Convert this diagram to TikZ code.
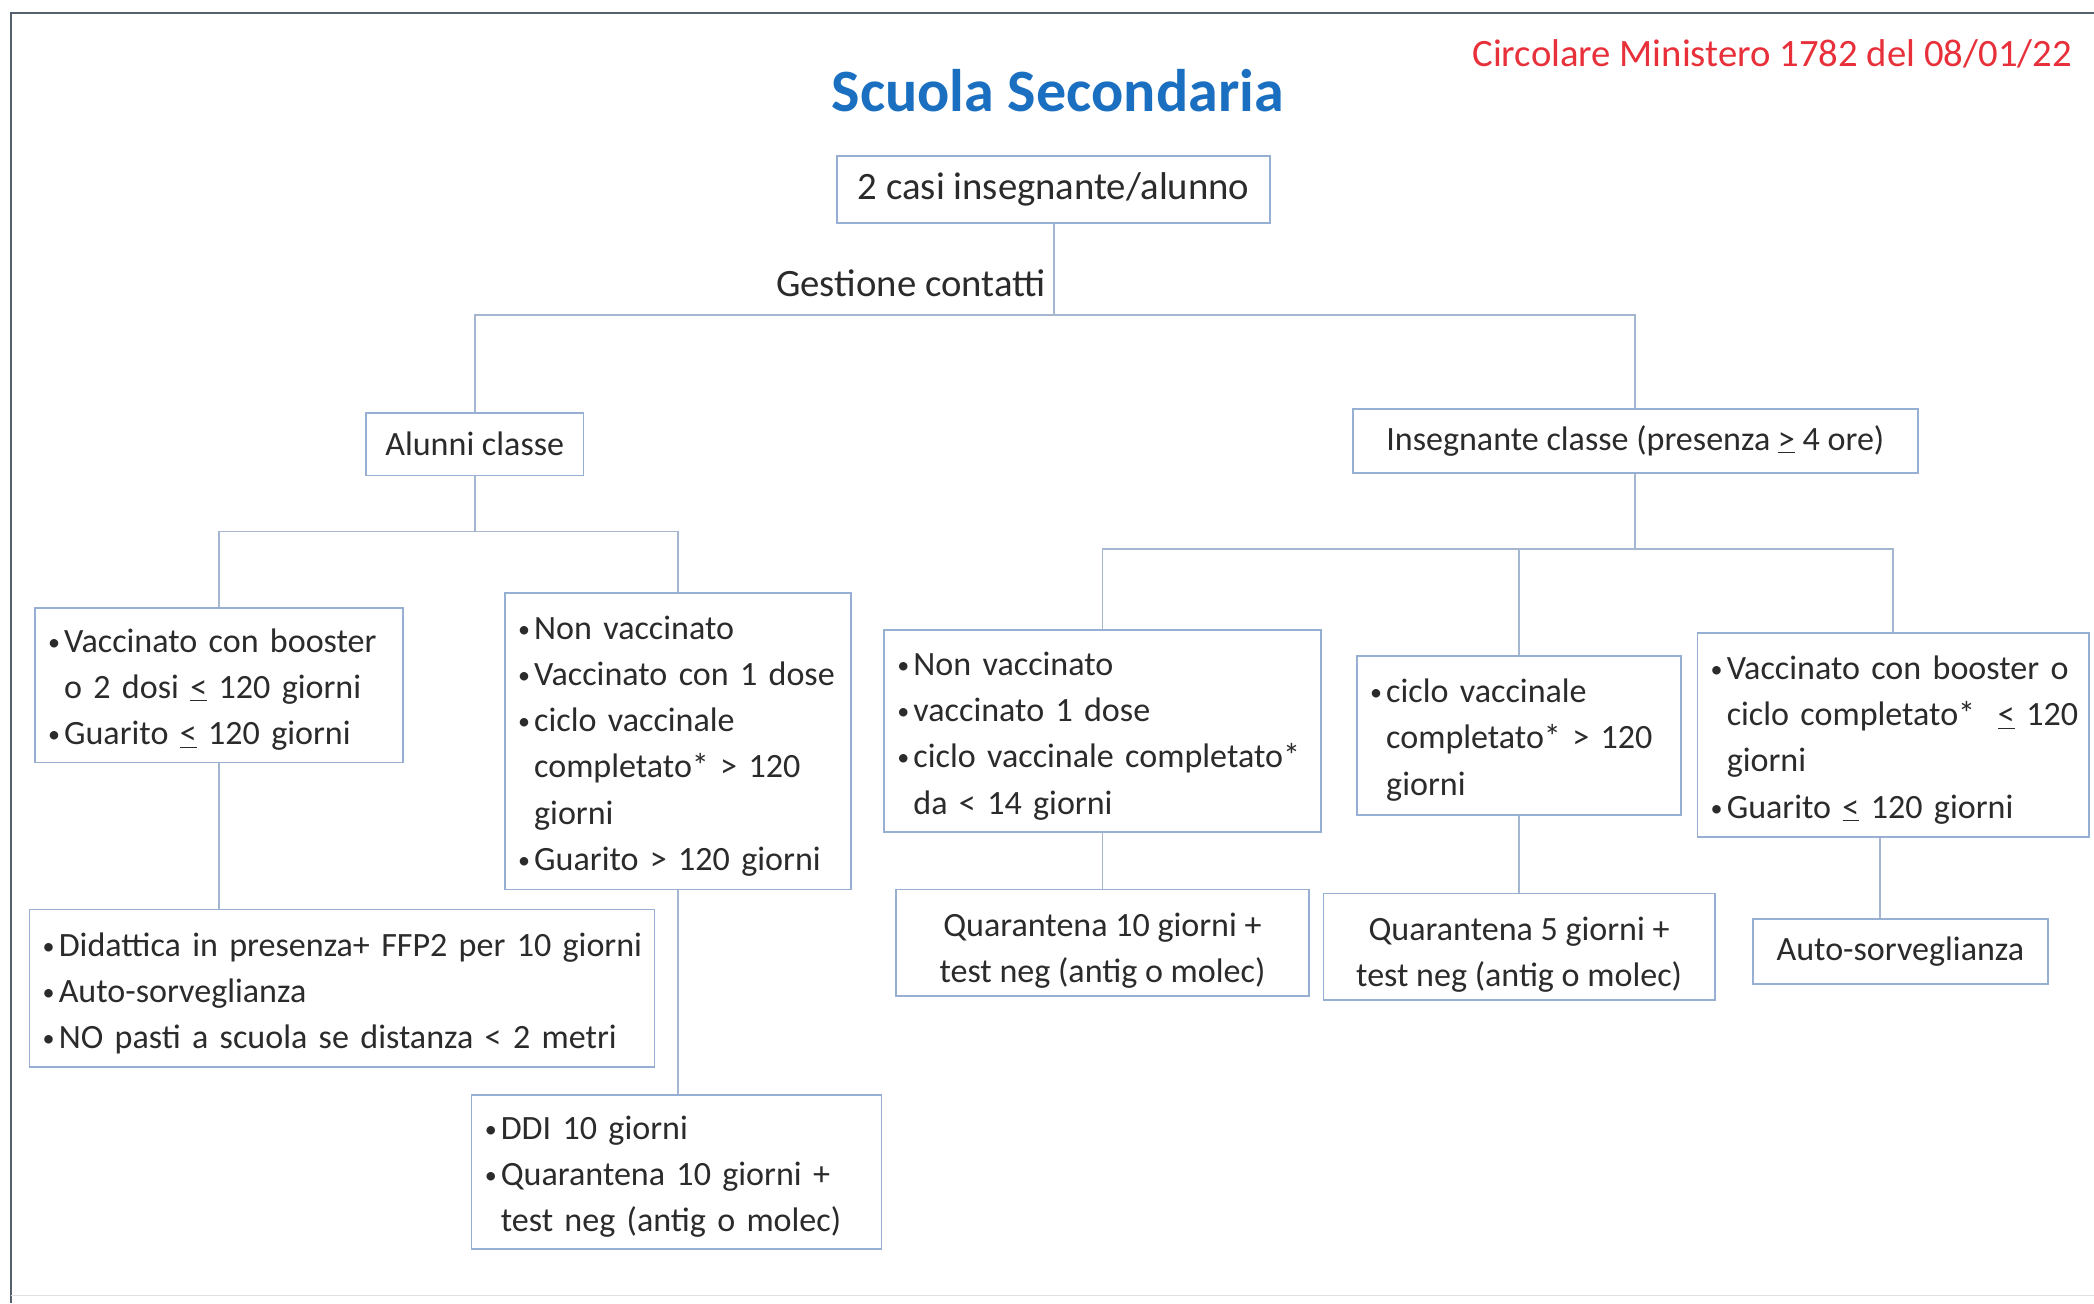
\documentclass[tikz,border=0pt]{standalone}
\usepackage{fontspec}
\setmainfont{Carlito}
\definecolor{bordc}{HTML}{96AFD2}
\definecolor{linec}{HTML}{A5B7D0}
\definecolor{txtc}{HTML}{2B2B2B}
\definecolor{titc}{HTML}{1A6FC0}
\definecolor{redc}{HTML}{E8303A}
\definecolor{framec}{HTML}{55606C}
\newcommand\bl{\makebox[12pt][l]{\raisebox{1.5pt}{\fontsize{18}{18}\selectfont •}}}
\newcommand\li[1]{\mbox{\bl #1}}
\newcommand\lc[1]{\mbox{\hspace*{12pt}#1}}
\newcommand\leu{\underline{<}}
\newcommand\geu{\underline{>}}
\newcommand\topstrut{\rule{0pt}{30pt}}
\tikzset{
  box/.style={draw=bordc, line width=1.3pt, fill=white, text=txtc, inner ysep=0pt,
    font=\fontsize{25.5}{34.5}\selectfont},
  cbox/.style={box, align=center, inner xsep=0pt},
  lbox/.style={box, align=left, inner xsep=10pt, execute at begin node={\rule{0pt}{25pt}}},
  conn/.style={draw=linec, line width=1.3pt},
}
\begin{document}
\begin{tikzpicture}[x=1pt,y=-1pt]
\useasboundingbox (0,0) rectangle (1568,976);
\fill[white] (0,0) rectangle (1568,976);
% frame
\draw[framec, line width=1.5pt] (8,976) -- (8,10) -- (1568,10);
\draw[black!12, line width=1pt] (8,970) -- (1568,970);
% titles
\node[font=\bfseries\fontsize{45}{54}\selectfont, text=titc] (title) at (792,68) {Scuola Secondaria};
\node[font=\fontsize{29}{34}\selectfont, text=redc] (circ) at (1327,40) {Circolare Ministero 1782 del 08/01/22};
% root
\node[cbox, minimum width=324pt, minimum height=50pt, font=\fontsize{29}{34.5}\selectfont] (root) at (789,142) {2 casi insegnante/alunno};
\node[text=txtc, font=\fontsize{29}{34.5}\selectfont, inner sep=0pt] (gest) at (682,212) {Gestione contatti};
% level 1
\node[cbox, minimum width=163pt, minimum height=47pt] (alunni) at (355.5,332.5) {Alunni classe};
\node[cbox, minimum width=423pt, minimum height=48pt] (ins) at (1224.5,330) {Insegnante classe (presenza \geu{} 4 ore)};
% alunni branch
\node[lbox, text width=256pt, minimum height=116pt] (a1) at (164,513)
  {\li{Vaccinato con booster}\\ \lc{o 2 dosi \leu{} 120 giorni}\\ \li{Guarito \leu{} 120 giorni}};
\node[lbox, text width=239pt, minimum height=222pt] (a2) at (507.5,555)
  {\li{Non vaccinato}\\ \li{Vaccinato con 1 dose}\\ \li{ciclo vaccinale}\\ \lc{completato* > 120}\\ \lc{giorni}\\ \li{Guarito > 120 giorni}};
\node[lbox, text width=448pt, minimum height=118pt] (a3) at (256,740)
  {\li{Didattica in presenza+ FFP2 per 10 giorni}\\ \li{Auto-sorveglianza}\\ \li{NO pasti a scuola se distanza < 2 metri}};
\node[lbox, text width=287pt, minimum height=115pt] (a4) at (506.5,877.5)
  {\li{DDI 10 giorni}\\ \li{Quarantena 10 giorni +}\\ \lc{test neg (antig o molec)}};
% insegnante branch
\node[lbox, text width=307pt, minimum height=151pt] (b1) at (825.5,547.5)
  {\li{Non vaccinato}\\ \li{vaccinato 1 dose}\\ \li{ciclo vaccinale completato*}\\ \lc{da < 14 giorni}};
\node[lbox, text width=223pt, minimum height=119pt] (b2) at (1137.5,550.5)
  {\li{ciclo vaccinale}\\ \lc{completato* > 120}\\ \lc{giorni}};
\node[lbox, text width=273pt, minimum height=153pt] (b3) at (1417.5,550.5)
  {\li{Vaccinato con booster o}\\ \lc{ciclo completato*\ \ \leu{} 120}\\ \lc{giorni}\\ \li{Guarito \leu{} 120 giorni}};
\node[cbox, minimum width=309pt, minimum height=80pt] (b4) at (825.5,706)
  {\topstrut Quarantena 10 giorni +\\ test neg (antig o molec)};
\node[cbox, minimum width=293pt, minimum height=80pt] (b5) at (1137.5,709)
  {\topstrut Quarantena 5 giorni +\\ test neg (antig o molec)};
\node[cbox, minimum width=221pt, minimum height=49pt] (b6) at (1423,712.5) {Auto-sorveglianza};
% junctions
\coordinate (j0) at (789,236);
\coordinate (ja) at (355.5,398);
\coordinate (jb) at (1224.5,411);
\coordinate (c3) at (1408,0);
% connectors
\draw[conn] (root.south) -- (j0);
\draw[conn] (j0) -| (alunni.north);
\draw[conn] (j0) -| (ins.north);
\draw[conn] (alunni.south) -- (ja);
\draw[conn] (ja) -| (a1.north);
\draw[conn] (ja) -| (a2.north);
\draw[conn] (a1.south) -- (a1.south |- a3.north);
\draw[conn] (a2.south) -- (a2.south |- a4.north);
\draw[conn] (ins.south) -- (jb);
\draw[conn] (jb) -| (b1.north);
\draw[conn] (jb) -| (b2.north);
\draw[conn] (jb) -| (b3.north);
\draw[conn] (b1.south) -- (b1.south |- b4.north);
\draw[conn] (b2.south) -- (b2.south |- b5.north);
\draw[conn] (c3 |- b3.south) -- (c3 |- b6.north);
\end{tikzpicture}
\end{document}
